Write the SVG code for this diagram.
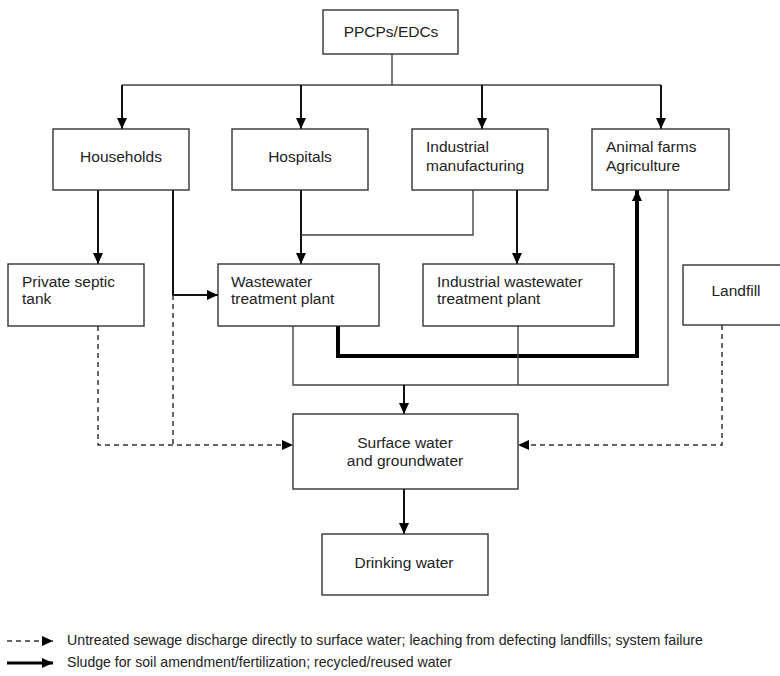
<svg xmlns="http://www.w3.org/2000/svg" width="780" height="676" viewBox="0 0 780 676">
<style>
.box{fill:#fff;stroke:#333;stroke-width:1.4}
.t{font-family:"Liberation Sans",Arial,sans-serif;font-size:15.5px;fill:#222}
.c{text-anchor:middle}
.thin{fill:none;stroke:#444;stroke-width:1.4}
.arr{fill:none;stroke:#111;stroke-width:2;marker-end:url(#ah)}
.thick{fill:none;stroke:#000;stroke-width:4;marker-end:url(#ah)}
.dash{fill:none;stroke:#333;stroke-width:1.5;stroke-dasharray:5 4}
.dasharr{fill:none;stroke:#333;stroke-width:1.5;stroke-dasharray:5 4;marker-end:url(#ah)}
.lg{font-family:"Liberation Sans",Arial,sans-serif;font-size:14.5px;fill:#222}
</style>
<defs>
<marker id="ah" markerUnits="userSpaceOnUse" markerWidth="12" markerHeight="10" refX="11" refY="5" orient="auto">
<path d="M0,0 L11,5 L0,10 Z" fill="#000"/>
</marker>
</defs>
<g id="connectors">
<path class="thin" d="M392,54 V85 M122,85 H661"/>
<path class="arr" d="M122,85 V129"/>
<path class="arr" d="M301,85 V129"/>
<path class="arr" d="M482,85 V129"/>
<path class="arr" d="M661,85 V129"/>
<path class="arr" d="M98,190 V264"/>
<path class="arr" d="M173,190 V295 H218"/>
<path class="dash" d="M173,295 V445"/>
<path class="dasharr" d="M98,326 V445 H293"/>
<path class="arr" d="M301,190 V264"/>
<path class="thin" d="M473,190 V235 H301"/>
<path class="arr" d="M517,190 V264"/>
<path class="thick" d="M338,326 V356 H637 V190"/>
<path class="thin" d="M293,326 V385 H668 V190 M518,326 V385"/>
<path class="arr" d="M404,385 V414"/>
<path class="dasharr" d="M722,325 V445 H518"/>
<path class="arr" d="M404,489 V534"/>
</g>
<g id="ppcps"><rect class="box" x="323" y="10" width="135" height="44"/><text class="t c" x="391" y="37">PPCPs/EDCs</text></g>
<g id="households"><rect class="box" x="53" y="129" width="136" height="61"/><text class="t c" x="121" y="162">Households</text></g>
<g id="hospitals"><rect class="box" x="232" y="129" width="136" height="61"/><text class="t c" x="300" y="162">Hospitals</text></g>
<g id="industrial"><rect class="box" x="412" y="129" width="136" height="61"/><text class="t" x="426" y="152">Industrial</text><text class="t" x="426" y="171">manufacturing</text></g>
<g id="animal"><rect class="box" x="592" y="129" width="137" height="61"/><text class="t" x="606" y="152">Animal farms</text><text class="t" x="606" y="171">Agriculture</text></g>
<g id="septic"><rect class="box" x="8" y="264" width="136" height="62"/><text class="t" x="22" y="287">Private septic</text><text class="t" x="22" y="304">tank</text></g>
<g id="wwtp"><rect class="box" x="218" y="264" width="161" height="62"/><text class="t" x="231" y="287">Wastewater</text><text class="t" x="231" y="304">treatment plant</text></g>
<g id="iwwtp"><rect class="box" x="423" y="264" width="191" height="62"/><text class="t" x="437" y="287">Industrial wastewater</text><text class="t" x="437" y="304">treatment plant</text></g>
<g id="landfill"><rect class="box" x="683" y="265" width="100" height="60"/><text class="t c" x="736" y="296">Landfill</text></g>
<g id="surface"><rect class="box" x="293" y="414" width="225" height="75"/><text class="t c" x="405" y="448">Surface water</text><text class="t c" x="405" y="466">and groundwater</text></g>
<g id="drinking"><rect class="box" x="322" y="534" width="166" height="61"/><text class="t c" x="404" y="568">Drinking water</text></g>
<g id="legend">
<path class="dasharr" d="M7,641 H53"/>
<text class="lg" x="67" y="645" textLength="636" lengthAdjust="spacingAndGlyphs">Untreated sewage discharge directly to surface water; leaching from defecting landfills; system failure</text>
<path fill="none" stroke="#000" stroke-width="3" marker-end="url(#ah)" d="M7,663 H53"/>
<text class="lg" x="67" y="667" textLength="385" lengthAdjust="spacingAndGlyphs">Sludge for soil amendment/fertilization; recycled/reused water</text>
</g>
</svg>
